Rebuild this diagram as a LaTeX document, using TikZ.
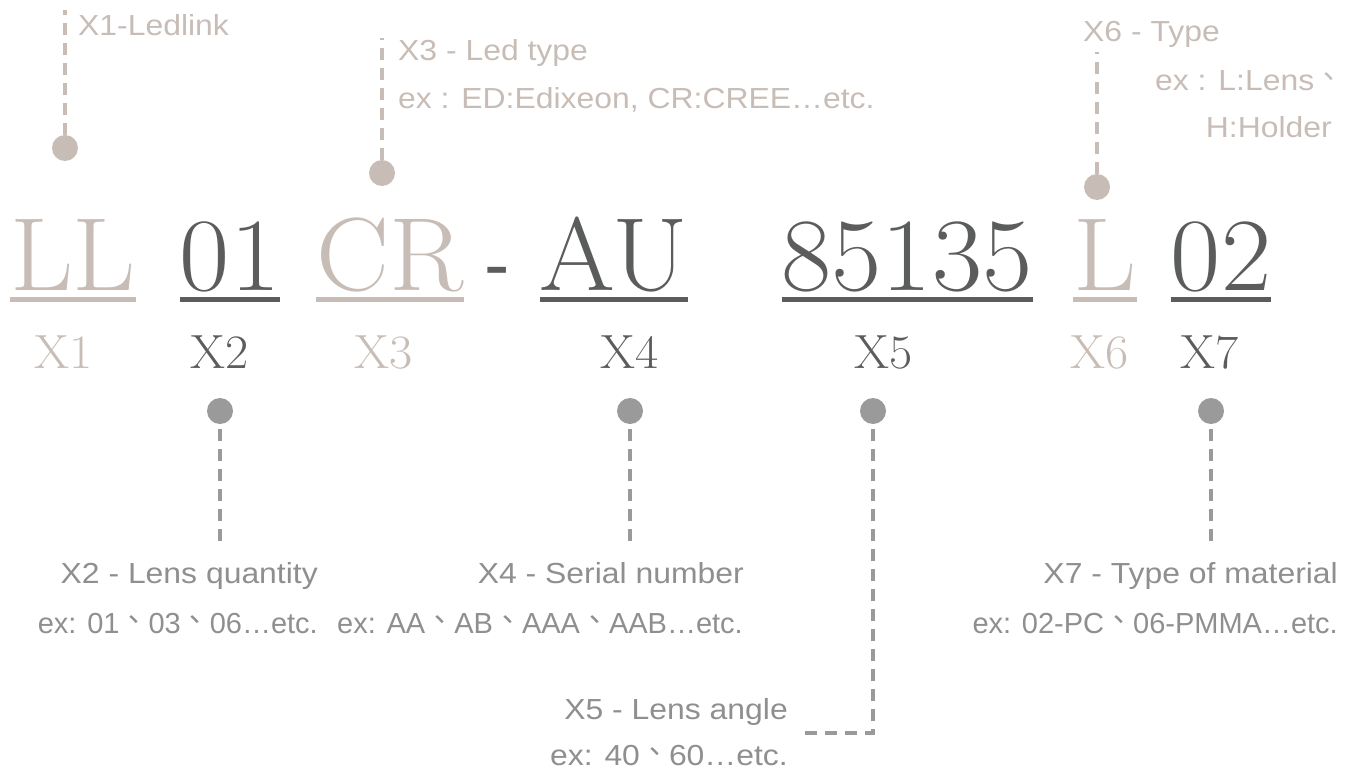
\documentclass[tikz,border=0pt]{standalone}
\usepackage{fontspec}
\newfontfamily\sans[FakeStretch=1.1]{Liberation Sans}
\newfontfamily\sansn{Liberation Sans}
\newfontfamily\cjk{Noto Sans CJK TC}
\newfontfamily\lmw[FakeStretch=1.05]{Latin Modern Roman}
\newcommand\dun{{\cjk\raisebox{0.08em}{、}}}
\definecolor{beige}{HTML}{C8BDB6}
\definecolor{dark}{HTML}{5B5D5C}
\definecolor{gtext}{HTML}{8F8F8F}
\definecolor{gdot}{HTML}{9A9A9A}
\begin{document}
\begin{tikzpicture}[x=1pt,y=-1pt,
  big/.style={font=\lmw\fontsize{104}{110}\selectfont, inner sep=0pt, anchor=base},
  lab/.style={font=\lmw\fontsize{48}{52}\selectfont, inner sep=0pt, anchor=base},
  note/.style={font=\sans\fontsize{29}{32}\selectfont, inner sep=0pt},
  exnote/.style={font=\sansn\fontsize{29}{32}\selectfont, inner sep=0pt},
  dotb/.style={circle, inner sep=0pt, minimum size=26pt, fill=beige},
  dotg/.style={circle, inner sep=0pt, minimum size=26pt, fill=gdot},
  dashline/.style={line width=3.5pt, dash pattern=on 12pt off 8pt},
  uline/.style={line width=4.5pt}]
\useasboundingbox (0,0) rectangle (1353,771);

% big code letters
\node[big, text=beige] (ll) at (73,290) {LL};
\node[big, text=dark] (c01) at (230,290) {01};
\node[big, text=beige] (cr) at (390,290) {CR};
\node[font=\sansn\fontsize{76}{80}\selectfont, inner sep=0pt, anchor=base, text=dark] (hy) at (497.5,290) {-};
\node[big, text=dark] (au) at (614,290) {AU};
\node[big, text=dark] (num) at (907,290) {85135};
\node[big, text=beige] (l) at (1105,290) {L};
\node[big, text=dark] (c02) at (1221,290) {02};

% underlines
\foreach \n/\c in {ll/beige, c01/dark, cr/beige, au/dark, num/dark, l/beige, c02/dark}
  \draw[uline, \c] ([yshift=-9.5pt]\n.base west) -- ([yshift=-9.5pt]\n.base east);

% X labels
\node[lab, text=beige] (x1) at (64,368) {X1};
\node[lab, text=dark] (x2) at (220,368) {X2};
\node[lab, text=beige] (x3) at (384,368) {X3};
\node[lab, text=dark] (x4) at (630,368) {X4};
\node[lab, text=dark] (x5) at (884,368) {X5};
\node[lab, text=beige] (x6) at (1100,368) {X6};
\node[lab, text=dark] (x7) at (1210,368) {X7};

% top dots and lines
\node[dotb] (d1) at (65,148) {};
\node[dotb] (d3) at (382,173) {};
\node[dotb] (d6) at (1097,187) {};
\coordinate (t1) at (65,10);
\coordinate (t3) at (382,38);
\coordinate (t6) at (1097,52);
\draw[dashline, beige] (d1.north) -- (t1);
\draw[dashline, beige] (d3.north) -- (t3);
\draw[dashline, beige] (d6.north) -- (t6);

% top notes
\node[note, text=beige, anchor=base west] (n1) at (78,35) {X1-Ledlink};
\node[note, text=beige, anchor=base west] (n3a) at (398,60) {X3 - Led type};
\node[note, text=beige, anchor=base west] (n3b) at (398,108) {ex : ED:Edixeon, CR:CREE…etc.};
\node[note, text=beige, anchor=base west] (n6a) at (1083,41) {X6 - Type};
\node[note, text=beige, anchor=base west] (n6b) at (1155,90) {ex : L:Lens\dun};
\node[note, text=beige, anchor=base east] (n6c) at (1332,137) {H:Holder};

% bottom dots and lines
\node[dotg] (d2) at (220,411) {};
\node[dotg] (d4) at (630,411) {};
\node[dotg] (d5) at (873,411) {};
\node[dotg] (d7) at (1211,411) {};
\coordinate (b2) at (220,547);
\coordinate (b4) at (630,547);
\coordinate (b7) at (1211,547);
\coordinate (b5) at (798,733);
\draw[dashline, gdot] ([yshift=-5pt]d2.south) -- (b2);
\draw[dashline, gdot] ([yshift=-5pt]d4.south) -- (b4);
\draw[dashline, gdot] ([yshift=-5pt]d7.south) -- (b7);
\draw[dashline, gdot] ([yshift=-5pt]d5.south) |- (b5);

% bottom notes
\node[note, text=gtext, anchor=base east] (n2a) at (318,583) {X2 - Lens quantity};
\node[exnote, text=gtext, anchor=base east] (n2b) at (318,633) {ex: 01\dun 03\dun 06…etc.};
\node[note, text=gtext, anchor=base east] (n4a) at (744,583) {X4 - Serial number};
\node[exnote, text=gtext, anchor=base east] (n4b) at (743,633) {ex: AA\dun AB\dun AAA\dun AAB…etc.};
\node[note, text=gtext, anchor=base east] (n7a) at (1338,583) {X7 - Type of material};
\node[exnote, text=gtext, anchor=base east] (n7b) at (1338,633) {ex: 02-PC\dun 06-PMMA…etc.};
\node[note, text=gtext, anchor=base east] (n5a) at (788,719) {X5 - Lens angle};
\node[note, text=gtext, anchor=base east] (n5b) at (788,765) {ex: 40\dun 60…etc.};
\end{tikzpicture}
\end{document}
